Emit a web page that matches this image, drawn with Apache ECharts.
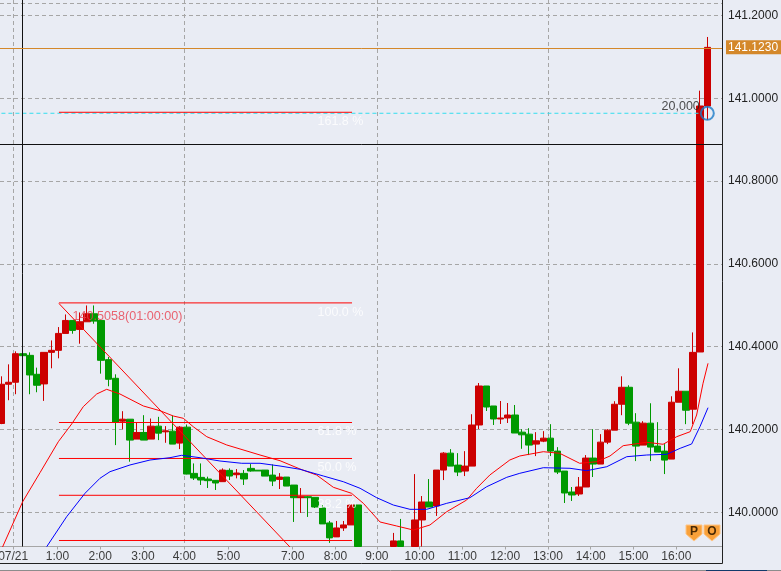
<!DOCTYPE html>
<html>
<head>
<meta charset="utf-8">
<title>USD/JPY 10 min</title>
<script src="https://cdn.jsdelivr.net/npm/echarts@6/dist/echarts.min.js"></script>
<style>
html, body { margin: 0; padding: 0; background: #E9ECF4; }
#chart { width: 781px; height: 571px; }
</style>
</head>
<body>
<div id="chart"></div>
<script>
// 10 minute candles, one row per candle: open, close, low, high
// null = candle sits below the visible price range, values clipped at the axis are held at 139.9174
const candles = [
    [140.2145,140.3093,140.2129,140.3285],[140.3093,140.3141,140.2707,140.3574],[140.3141,140.3831,140.2852,140.3888],[140.3831,140.3783,140.3349,140.3863],
    [140.3791,140.3317,140.2852,140.3863],[140.3333,140.3069,140.2900,140.3494],[140.3101,140.3863,140.2691,140.3863],[140.3863,140.3912,140.3478,140.4152],
    [140.3912,140.4321,140.3719,140.4474],[140.4321,140.4634,140.4321,140.4779],[140.4634,140.4393,140.4313,140.4634],[140.4417,140.4602,140.4072,140.4827],
    [140.4602,140.4795,140.4602,140.4996],[140.4795,140.4618,140.4554,140.4996],[140.4634,140.3671,140.3349,140.4650],[140.3687,140.3213,140.3044,140.3751],
    [140.3237,140.2169,140.1623,140.3333],[140.2201,140.2249,140.2008,140.2442],[140.2249,140.1744,140.1222,140.2249],[140.1768,140.1928,140.1768,140.2169],
    [140.1928,140.1744,140.1744,140.2346],[140.1768,140.2081,140.1768,140.2265],[140.2081,140.1912,140.1744,140.2306],[140.1944,140.1968,140.1679,140.2081],
    [140.1960,140.1647,140.1647,140.2338],[140.1671,140.2057,140.1527,140.2081],[140.2057,140.0924,140.0916,140.2121],[140.0940,140.0828,140.0780,140.1181],
    [140.0844,140.0780,140.0660,140.1181],[140.0804,140.0764,140.0587,140.0860],[140.0772,140.0708,140.0539,140.0780],[140.0740,140.1020,140.0740,140.1061],
    [140.1013,140.0876,140.0780,140.1061],[140.0908,140.0949,140.0820,140.1045],[140.0940,140.0804,140.0660,140.1021],[140.1061,140.0997,140.0981,140.1165],
    [140.1017,140.0998,140.0998,140.1017],[140.1020,140.0875,140.0875,140.1020],[140.0899,140.0755,140.0634,140.1156],[140.0795,140.0851,140.0562,140.0947],
    [140.0851,140.0634,140.0634,140.0851],[140.0658,140.0353,139.9767,140.0658],[140.0353,140.0377,139.9984,140.0586],[140.0377,140.0353,139.9888,140.0393],
    [140.0361,140.0128,140.0104,140.0361],[140.0104,139.9719,139.9719,140.0177],[139.9743,139.9382,139.9261,139.9791],[139.9406,139.9622,139.9406,139.9791],
    [139.9622,139.9695,139.9550,139.9791],[139.9695,140.0177,139.9695,140.0177],[140.0177,139.9174,139.9174,140.0177],null,
    null,null,null,[139.9174,139.9309,139.9174,139.9502],
    [139.9309,139.9174,139.9174,139.9840],null,[139.9174,139.9815,139.9174,140.0923],[139.9815,140.0249,139.9174,140.0393],
    [140.0249,140.0128,140.0128,140.0803],[140.0152,140.1020,139.9912,140.1020],[140.1020,140.1429,140.0779,140.1453],[140.1429,140.1116,140.1116,140.1526],
    [140.1140,140.0972,140.0875,140.1429],[140.0996,140.1116,140.0875,140.1477],[140.1116,140.2109,140.1116,140.2369],[140.2109,140.3051,140.2012,140.3123],
    [140.3051,140.2543,140.2447,140.3051],[140.2568,140.2254,140.2109,140.2568],[140.2254,140.2278,140.2133,140.2688],[140.2278,140.2350,140.2157,140.2640],
    [140.2350,140.1915,140.1915,140.2592],[140.1936,140.1872,140.1534,140.2008],[140.1888,140.1623,140.1382,140.2032],[140.1647,140.1727,140.1358,140.1936],
    [140.1719,140.1791,140.1695,140.1960],[140.1791,140.1478,140.1358,140.2129],[140.1478,140.0972,140.0924,140.1574],[140.0996,140.0466,140.0225,140.0996],
    [140.0490,140.0418,140.0274,140.0611],[140.0442,140.0611,140.0394,140.0852],[140.0611,140.1310,140.0611,140.1382],[140.1310,140.1165,140.0852,140.2008],
    [140.1165,140.1695,140.1165,140.1888],[140.1695,140.1984,140.1647,140.2008],[140.1984,140.2610,140.1984,140.2683],[140.2610,140.3020,140.2345,140.3285],
    [140.3020,140.2153,140.2105,140.3068],[140.2177,140.1599,140.1237,140.2394],[140.1623,140.2153,140.1623,140.2201],[140.2153,140.1575,140.1237,140.2634],
    [140.1599,140.1454,140.1454,140.2177],[140.1478,140.1261,140.0924,140.1647],[140.1285,140.2659,140.1285,140.2803],[140.2659,140.2924,140.2659,140.3478],
    [140.2924,140.2466,140.2129,140.2924],[140.2490,140.3863,140.2129,140.4345],[140.3872,140.9814,140.3872,141.0184],[140.9814,141.1230,140.9476,141.1481]
];

// moving averages read at candle positions
const redEmaIndex = [0,2.98,5.41,7.98,9.85,11.48,13.36,14.76,16.63,19.9,22.24,24.1,25.5,26.9,28.8,31.6,36.27,39.07,41.87,44.2,46.55,49.1,50.76,53.1,55.44,57.77,60.1,62.45,65.25,66.65,68.5,71.3,72.7,76,78.3,81.1,83.5,85.35,87.2,90.5,92.8,94.7,96.6,97.5,98.4,99.1];
const redEmaValues = [139.91,140.0256,140.0957,140.1705,140.2133,140.2551,140.2857,140.2971,140.2857,140.2568,140.2454,140.2326,140.2271,140.2068,140.1826,140.1626,140.1384,140.1246,140.1046,140.0901,140.0604,140.0459,140.0217,139.9766,139.9669,139.9572,139.9693,140.0014,140.0297,140.058,140.0901,140.1263,140.136,140.1464,140.1425,140.1184,140.1222,140.136,140.1609,140.1691,140.1643,140.1826,140.1947,140.235,140.3116,140.3599];
const blueEmaIndex = [6.35,9.15,11.72,13.82,15.23,18.03,20.84,23.64,25.28,27.85,30.65,33.7,36.27,39.07,41.87,45.15,47.95,50.3,52.63,54.96,57.3,59.65,62.45,65.7,68.06,70.87,72.7,76,79.74,82.08,84.9,87.7,90.5,93.3,95.2,96.8,97.97,99.1];
const blueEmaValues = [139.9169,139.9894,140.0459,140.0821,140.0981,140.1143,140.1263,140.1319,140.1377,140.1319,140.1239,140.1184,140.1184,140.1118,140.1039,140.0877,140.0739,140.058,140.0353,140.0176,140.0072,140.0072,140.0217,140.0353,140.0618,140.0845,140.0942,140.1077,140.1063,140.1005,140.1101,140.1343,140.1384,140.1401,140.1546,140.165,140.2068,140.2527];

// fibonacci tool
const fibLabels = ['161.8 %', '100.0 %', '61.8 %', '50.0 %', '38.2 %', ''];
const fibPrices = [140.9662, 140.5058, 140.2169, 140.13, 140.0411, 139.9319];
const fibRange = [8.07, 49.17];
const fibTrendIndex = [8.07, 41];
const fibTrendPrices = [140.5043, 139.9065];

// axis ticks, the 6:00 candles are missing from the feed
const hourTicks = [1.65,7.85,13.85,19.85,25.65,31.85,40.85,46.85,52.65,58.65,64.65,70.65,76.65,82.65,88.65,94.65];
const hourLabels = ['07/21','1:00','2:00','3:00','4:00','5:00','7:00','8:00','9:00','10:00','11:00','12:00','13:00','14:00','15:00','16:00'];
const verticalGrid = [1.65, 25.65, 52.65, 76.65];
const priceLabels = [140, 140.2, 140.4, 140.6, 140.8, 141, 141.2];
const priceGrid = [140, 140.2, 140.4, 140.6, 140.8, 141, 141.2, 141.2285];

const lastPrice = 141.123;
const crossIndex = 2.93;
const crossPrice = 140.8865;
const orderPrice = 140.9638;
const orderIndex = 99;
const orderLineIndex = [0, 98];

const gridDash = { color: '#A6A6A6', type: [4, 3], width: 1 };
const xMin = -0.2, xMax = 101.13;
const textFont = 'Liberation Sans';

function zip(a, b) {
    return a.map((v, i) => [v, b[i]]);
}

function thinLine(name, data, z, color, type) {
    return {
        name: name, type: 'line', data: data, showSymbol: false, symbol: 'none', z: z,
        lineStyle: { color: color || '#FF0000', width: 1, type: type || 'solid' }, silent: true
    };
}

// scatter with an invisible dot, only there to carry a text label
function textMark(x, y, label) {
    return {
        type: 'scatter', data: [[x, y]], symbolSize: 1, silent: true, z: 8,
        itemStyle: { color: 'rgba(0,0,0,0)' }, label: Object.assign({ show: true, fontFamily: textFont }, label)
    };
}

function shield(x, letter) {
    return {
        type: 'group', x: x, y: 525, children: [
            {
                type: 'polygon',
                shape: { points: [[0, 0], [16, 0], [16, 9], [8, 16], [0, 9]] },
                style: { fill: '#F9A13A', stroke: '#FFC585', lineWidth: 1 }
            },
            {
                type: 'text', x: 8, y: 7,
                style: { text: letter, fill: '#4A2A05', font: 'bold 12px ' + textFont, textAlign: 'center', textVerticalAlign: 'middle' }
            }
        ]
    };
}

function frameLine(x1, y1, x2, y2, color) {
    return {
        type: 'line', shape: { x1: x1, y1: y1, x2: x2, y2: y2 }, silent: true, z: 20,
        style: { stroke: color, lineWidth: 1 }
    };
}

function topText(x, text) {
    return { type: 'text', x: x, y: 3, z: 20, style: { text: text, fill: '#333', font: '12px ' + textFont, textVerticalAlign: 'bottom' } };
}

const chart = echarts.init(document.getElementById('chart'));
chart.setOption({
    animation: false,
    backgroundColor: '#E9ECF4',
    grid: { left: 0, top: 0, width: 722.5, height: 546.5, outerBoundsMode: 'none' },
    xAxis: [
        {
            type: 'value', min: xMin, max: xMax,
            axisLine: { lineStyle: { color: '#A6A6A6', width: 1 } },
            axisTick: { show: true, length: 3, customValues: hourTicks, lineStyle: { color: '#A6A6A6' } },
            axisLabel: {
                customValues: hourTicks, margin: 4, color: '#3C3C3C', fontSize: 12, fontFamily: textFont,
                formatter: v => hourLabels[hourTicks.findIndex(t => Math.abs(t - v) < 0.01)]
            },
            splitLine: { show: false }
        },
        {
            type: 'value', min: xMin, max: xMax, position: 'bottom',
            axisLine: { show: false },
            axisTick: { show: false, customValues: verticalGrid },
            axisLabel: { show: false },
            splitLine: { show: true, lineStyle: gridDash }
        }
    ],
    yAxis: {
        type: 'value', position: 'right', min: 139.9174, max: 141.2374,
        axisLine: { show: false },
        axisTick: { show: false, customValues: priceGrid },
        axisLabel: {
            customValues: priceLabels.concat([lastPrice]), margin: 3.5, fontSize: 12, fontFamily: textFont,
            formatter: v => (v === lastPrice ? '{tag|' : '{plain|') + v.toFixed(4) + '}',
            rich: {
                plain: { color: '#222', padding: [0, 3, 0, 2], fontSize: 12, fontFamily: textFont },
                tag: { color: '#fff', backgroundColor: '#D4882A', padding: [1, 3, 1, 2], fontSize: 12, fontFamily: textFont }
            }
        },
        splitLine: { show: true, lineStyle: gridDash }
    },
    series: [
        {
            type: 'candlestick', data: candles.map((c, i) => [i].concat(c || ['-', '-', '-', '-'])),
            encode: { x: 0, y: [1, 2, 3, 4] }, barWidth: 7, z: 3,
            itemStyle: { color: '#CC0000', color0: '#009900', borderColor: '#CC0000', borderColor0: '#009900', borderWidth: 1 }
        },
        thinLine('order', orderLineIndex.map(i => [i, orderPrice]), 4, '#33DDEE', [4, 3]),
        thinLine('ema red', zip(redEmaIndex, redEmaValues), 5),
        thinLine('ema blue', zip(blueEmaIndex, blueEmaValues), 5, '#0000FF'),
        ...fibPrices.map((p, i) => thinLine('fib' + i, [[fibRange[0], p], [fibRange[1], p]], 4)),
        thinLine('fib trend', zip(fibTrendIndex, fibTrendPrices), 4),
        ...fibLabels.filter(l => l).map((l, i) => textMark(fibRange[1], fibPrices[i], {
            formatter: l, position: 'right', offset: [-40, 9.5], color: '#fff', fontSize: 12.5
        })),
        textMark(fibRange[0], fibPrices[1], {
            formatter: '140.5058(01:00:00)', position: 'right', offset: [8, 14], color: '#E8404F', fontSize: 12.6
        }),
        {
            // cross hair and last price
            type: 'line', data: [], z: 6,
            markLine: {
                silent: true, symbol: 'none', label: { show: false }, animation: false,
                data: [
                    { xAxis: crossIndex, lineStyle: { color: '#111', type: 'solid', width: 1 } },
                    { yAxis: crossPrice, lineStyle: { color: '#111', type: 'solid', width: 1 } },
                    { yAxis: lastPrice, lineStyle: { color: '#D4882A', type: 'solid', width: 1 } }
                ]
            }
        },
        {
            type: 'scatter', data: [[orderIndex, orderPrice]], symbolSize: 13, z: 7,
            itemStyle: { color: 'rgba(0,0,0,0)', borderColor: '#1C7CC8', borderWidth: 2 },
            label: {
                show: true, formatter: '20,000', position: 'left', offset: [5, -7],
                color: '#222', fontSize: 12.5, fontFamily: textFont
            }
        }
    ],
    graphic: [
        frameLine(722.5, 0, 722.5, 563.5, '#222'),
        frameLine(0, 563.5, 722.5, 563.5, '#222'),
        frameLine(0, 570.5, 781, 570.5, '#8C8C8C'),
        frameLine(706, 570.5, 767, 570.5, '#123A6B'),
        shield(686, 'P'),
        shield(704, 'O'),
        topText(7, 'USD/JPY 1'),
        topText(100, '20 EMA'),
        topText(190, '10 EMA')
    ]
});
</script>
</body>
</html>
